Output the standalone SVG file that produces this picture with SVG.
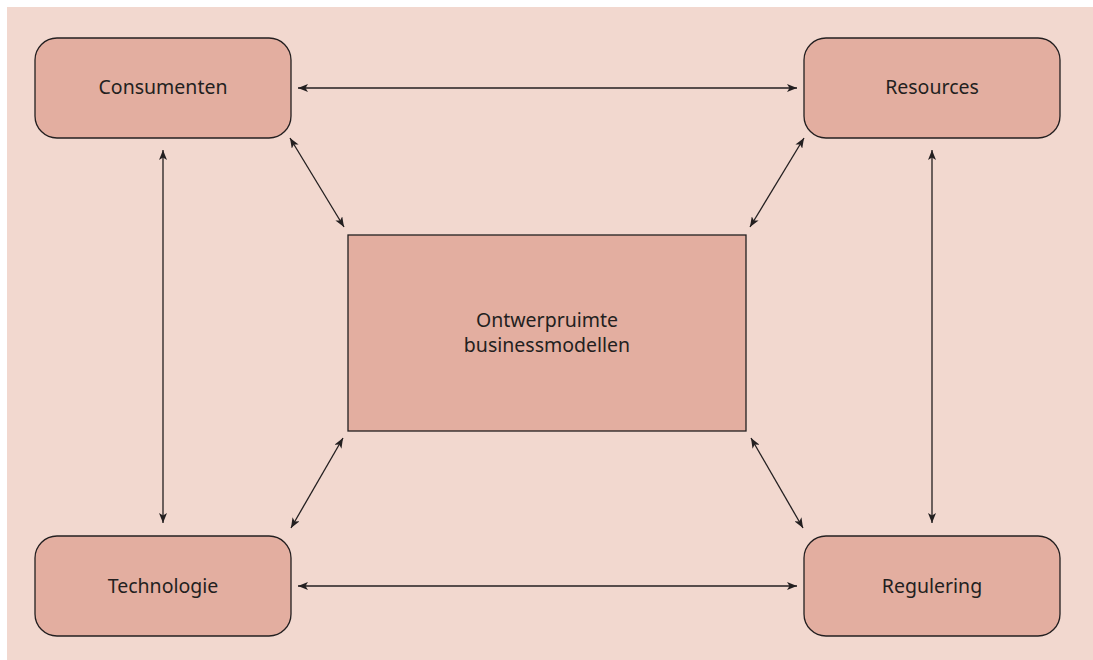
<svg xmlns="http://www.w3.org/2000/svg" width="1093" height="660" viewBox="0 0 1093 660">
<defs>
<marker id="ah" viewBox="0 0 10 8" refX="10" refY="4" markerWidth="10" markerHeight="8" markerUnits="userSpaceOnUse" orient="auto-start-reverse">
<path d="M0,0 L10,4 L0,8 L2.5,4 Z" fill="#231f20"/>
</marker>
</defs>
<style>
.box{fill:#e3aea0;stroke:#231f20;stroke-width:1.3}
.lbl{font-family:"Noto Sans","Open Sans",sans-serif;font-size:19.5px;fill:#231f20;text-anchor:middle}
.con{stroke:#231f20;stroke-width:1.3;fill:none;marker-start:url(#ah);marker-end:url(#ah)}
</style>
<rect x="7" y="7" width="1086" height="653" fill="#f2d8cf"/>
<g id="consumenten">
<rect class="box" x="35" y="38" width="256" height="100" rx="22"/>
<text class="lbl" x="163" y="94">Consumenten</text>
</g>
<g id="resources">
<rect class="box" x="804" y="38" width="256" height="100" rx="22"/>
<text class="lbl" x="932" y="94">Resources</text>
</g>
<g id="technologie">
<rect class="box" x="35" y="536" width="256" height="100" rx="22"/>
<text class="lbl" x="163" y="593">Technologie</text>
</g>
<g id="regulering">
<rect class="box" x="804" y="536" width="256" height="100" rx="22"/>
<text class="lbl" x="932" y="593">Regulering</text>
</g>
<g id="center">
<rect class="box" x="348" y="235" width="398" height="196"/>
<text class="lbl" x="547" y="327">Ontwerpruimte</text>
<text class="lbl" x="547" y="352">businessmodellen</text>
</g>
<g id="connectors">
<line class="con" x1="298" y1="88" x2="797" y2="88"/>
<line class="con" x1="298" y1="586" x2="797" y2="586"/>
<line class="con" x1="163" y1="150" x2="163" y2="523"/>
<line class="con" x1="932" y1="150" x2="932" y2="523"/>
<line class="con" x1="290" y1="138" x2="344" y2="227"/>
<line class="con" x1="804" y1="138" x2="750" y2="227"/>
<line class="con" x1="343" y1="438" x2="291" y2="528"/>
<line class="con" x1="751" y1="438" x2="803" y2="528"/>
</g>
</svg>
